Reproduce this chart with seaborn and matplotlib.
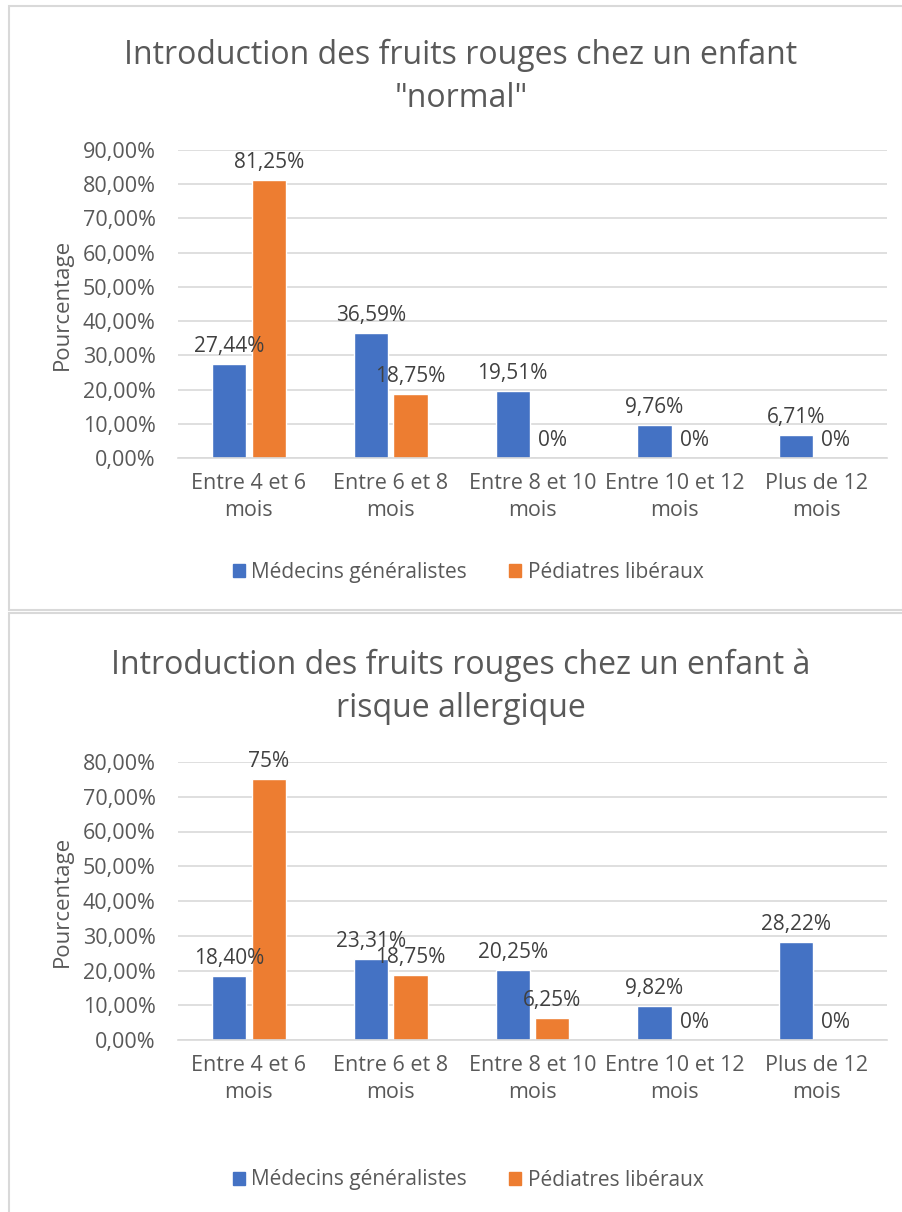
import numpy as np
import pandas as pd
import matplotlib
matplotlib.use("Agg")
import matplotlib.pyplot as plt
from matplotlib.patches import Rectangle
import seaborn as sns

# données
categories = ["Entre 4 et 6\nmois", "Entre 6 et 8\nmois", "Entre 8 et 10\nmois",
              "Entre 10 et 12\nmois", "Plus de 12\nmois"]
series = ["Médecins généralistes", "Pédiatres libéraux"]

normal_generalistes = [27.44, 36.59, 19.51, 9.76, 6.71]
normal_pediatres = [81.25, 18.75, 0, 0, 0]

allergie_generalistes = [18.40, 23.31, 20.25, 9.82, 28.22]
allergie_pediatres = [75, 18.75, 6.25, 0, 0]

titles = ["Introduction des fruits rouges chez un enfant\n\"normal\"",
          "Introduction des fruits rouges chez un enfant à\nrisque allergique"]
y_max = [90, 80]

BLUE = "#4472C4"
ORANGE = "#ED7D31"
GREY_TXT = "#595959"
GRID = "#D9D9D9"

sns.set_theme(style="white")
plt.rcParams['font.family'] = ['Open Sans', 'DejaVu Sans']

W, H = 903, 1212
fig = plt.figure(figsize=(W / 100, H / 100), dpi=100)


def fmt_fixed(v):
    return f"{v:.2f}".replace(".", ",") + "%"


def fmt_general(v):
    s = f"{v:.2f}".rstrip("0").rstrip(".")
    return s.replace(".", ",") + "%"


def px_axes(left, right, top, bottom):
    return [left / W, 1 - bottom / H, (right - left) / W, (bottom - top) / H]


panels = [
    dict(gen=normal_generalistes, ped=normal_pediatres, title=titles[0], ymax=y_max[0],
         box=(9, 6, 894, 604), ax=px_axes(178, 887, 150, 458), title_y=77, legend_y=572),
    dict(gen=allergie_generalistes, ped=allergie_pediatres, title=titles[1], ymax=y_max[1],
         box=(9, 613, 900, 620), ax=px_axes(178, 887, 762, 1040), title_y=687, legend_y=1180),
]

for p in panels:
    # cadre du graphique
    bx, by, bw, bh = p["box"]
    fig.patches.append(Rectangle((bx / W, 1 - (by + bh) / H), bw / W, bh / H,
                                 transform=fig.transFigure, fill=False,
                                 edgecolor=GRID, lw=1.5))

    df = pd.DataFrame({
        "categorie": categories * 2,
        "serie": [series[0]] * 5 + [series[1]] * 5,
        "valeur": p["gen"] + p["ped"],
    })

    ax = fig.add_axes(p["ax"])
    sns.barplot(data=df, x="categorie", y="valeur", hue="serie",
                palette=[BLUE, ORANGE], width=0.56, gap=0.14, ax=ax,
                legend=False, saturation=1)

    ax.set_ylim(0, p["ymax"])
    ticks = np.arange(0, p["ymax"] + 1, 10)
    ax.set_yticks(ticks)
    ax.set_yticklabels([fmt_fixed(t) for t in ticks])
    ax.set_xlim(-0.5, 4.5)
    ax.grid(axis="y", color=GRID, lw=1.2)
    ax.set_axisbelow(True)
    for s in ["top", "right", "left"]:
        ax.spines[s].set_visible(False)
    ax.spines["bottom"].set_color(GRID)
    ax.spines["bottom"].set_linewidth(1.2)
    ax.tick_params(axis="both", length=0, labelsize=15.5, colors=GREY_TXT)
    ax.tick_params(axis="y", pad=16)
    ax.tick_params(axis="x", pad=11)
    for lab in ax.get_xticklabels():
        lab.set_linespacing(1.35)
    ax.set_xlabel("")
    ax.set_ylabel("Pourcentage", fontsize=16, color=GREY_TXT, labelpad=7)

    ax.bar_label(ax.containers[0], labels=[fmt_fixed(v) for v in p["gen"]],
                 padding=5, fontsize=15, color="#404040")
    ax.bar_label(ax.containers[1], labels=[fmt_general(v) for v in p["ped"]],
                 padding=5, fontsize=15, color="#404040")

    fig.text(461 / W, 1 - p["title_y"] / H, p["title"], ha="center", va="center",
             fontsize=23, color=GREY_TXT, linespacing=1.4)

    handles = [Rectangle((0, 0), 1, 1, color=BLUE), Rectangle((0, 0), 1, 1, color=ORANGE)]
    fig.legend(handles, series, loc="center", bbox_to_anchor=(468 / W, 1 - p["legend_y"] / H),
               ncol=2, frameon=False, fontsize=15, labelcolor=GREY_TXT,
               handlelength=0.6, handleheight=0.6, handletextpad=0.3, columnspacing=2.0)

fig.savefig("out.png", dpi=100)
